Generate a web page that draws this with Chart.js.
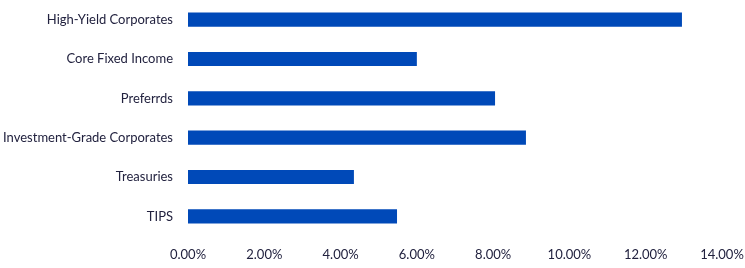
<!DOCTYPE html>
<html>
<head>
<meta charset="utf-8">
<script src="https://cdn.jsdelivr.net/npm/chart.js@4"></script>
<style>
  html, body { margin: 0; padding: 0; background: #fff; }
  #wrap { width: 745px; height: 268px; }
</style>
</head>
<body>
<div id="wrap"><canvas id="yieldChart"></canvas></div>
<script>
const categories = ['High-Yield Corporates', 'Core Fixed Income', 'Preferrds', 'Investment-Grade Corporates', 'Treasuries', 'TIPS'];
const yields = [12.95, 6.00, 8.05, 8.86, 4.35, 5.48];
const tickValues = [0, 2, 4, 6, 8, 10, 12, 14];

const textColor = '#22223f';
const barColor = '#0049b8';

const ctx = document.getElementById('yieldChart').getContext('2d');
const yieldChart = new Chart(ctx, {
    type: 'bar',
    data: {
        labels: categories,
        datasets: [{
            data: yields,
            backgroundColor: barColor,
            categoryPercentage: 1,
            barPercentage: 0.36
        }]
    },
    options: {
        indexAxis: 'y',
        responsive: true,
        maintainAspectRatio: false,
        animation: false,
        layout: { padding: 0 },
        plugins: {
            legend: { display: false },
            tooltip: { enabled: false }
        },
        scales: {
            x: {
                min: tickValues[0],
                max: tickValues[tickValues.length - 1],
                grid: { display: false, drawTicks: false },
                border: { display: false },
                afterBuildTicks: (scale) => {
                    scale.ticks = tickValues.map(v => ({ value: v }));
                },
                afterFit: (scale) => {
                    scale.height = 32;
                    scale.paddingLeft = 0;
                    scale.paddingRight = 23;
                    scale.paddingTop = 0;
                    scale.paddingBottom = 0;
                },
                ticks: {
                    color: textColor,
                    padding: 11,
                    maxRotation: 0,
                    font: { family: 'Lato', size: 13 },
                    callback: (v) => Number(v).toFixed(2) + '%'
                }
            },
            y: {
                grid: { display: false, drawTicks: false },
                border: { display: false },
                afterFit: (scale) => {
                    scale.width = 188;
                    scale.paddingTop = 0;
                    scale.paddingBottom = 0;
                },
                ticks: {
                    color: textColor,
                    padding: 15,
                    font: { family: 'Lato', size: 13 }
                }
            }
        }
    }
});
</script>
</body>
</html>
